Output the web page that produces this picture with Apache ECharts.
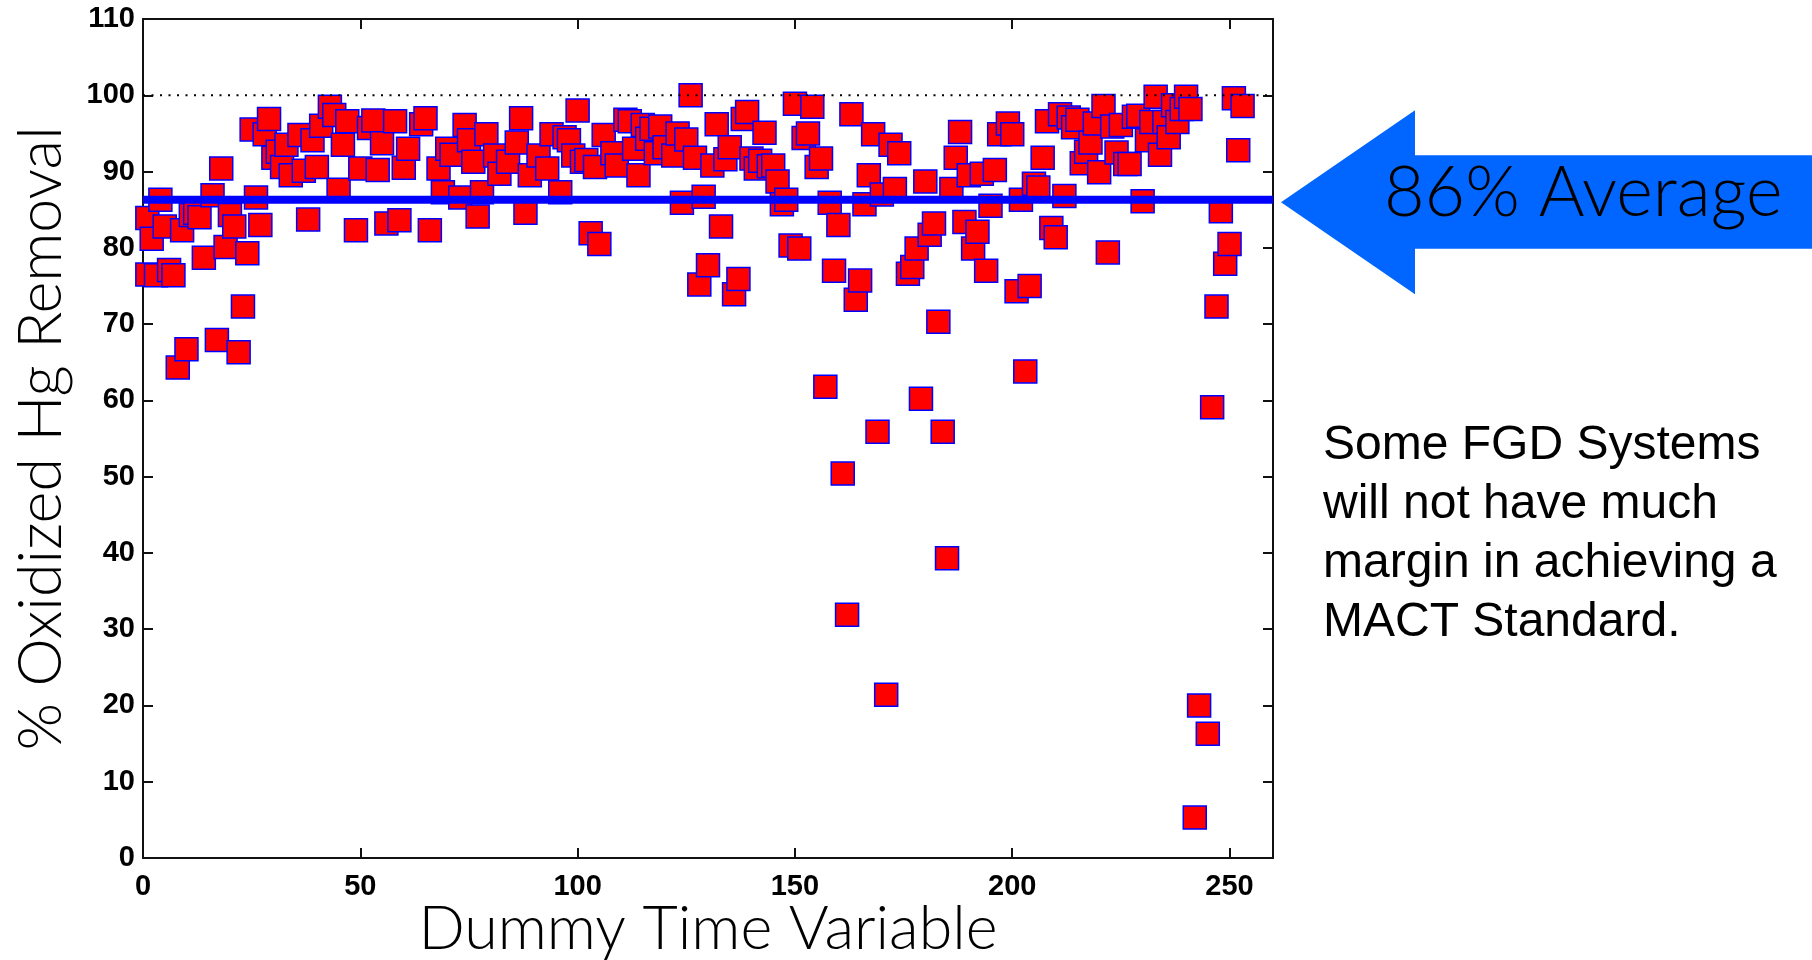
<!DOCTYPE html>
<html>
<head>
<meta charset="utf-8">
<script src="https://cdn.jsdelivr.net/npm/echarts@6/dist/echarts.min.js"></script>
<style>
html,body{margin:0;padding:0;background:#fff;}
#chart{width:1812px;height:960px;}
</style>
</head>
<body>
<div id="chart"></div>
<script>
// ---- data ----
const xs = [1,1,2,3,4,5,6,7,8,9,10,11,12,13,14,16,17,18,19,20,21,22,23,24,25,26,27,28,29,30,
  31,32,33,34,36,37,38,39,40,41,43,44,45,46,47,49,50,52,53,54,55,56,58,59,60,61,64,65,66,68,
  69,70,71,73,74,75,76,77,78,79,81,82,84,86,87,88,89,91,93,94,96,97,98,99,100,101,102,103,104,105,
  106,108,109,111,112,113,114,115,116,117,118,119,120,122,123,124,125,126,127,128,129,130,131,132,
  133,134,135,136,137,138,139,140,141,142,143,144,145,146,147,148,149,150,151,152,153,154,155,156,
  157,158,159,160,161,162,163,164,165,166,167,168,169,170,171,172,173,174,176,177,178,179,180,181,
  182,183,184,185,186,187,188,189,190,191,192,193,194,195,196,197,199,200,201,202,203,204,205,206,
  207,208,209,210,211,212,213,214,215,216,217,218,219,220,221,222,223,224,225,226,227,228,229,230,
  231,232,233,234,235,236,237,238,239,240,241,242,243,245,246,247,248,249,250,251,252,253];
const ys = [83.9,76.5,81.2,76.4,86.3,82.8,77.1,76.4,64.3,82.3,66.7,84.3,84.6,84.0,78.7,86.9,67.9,90.4,80.1,84.3,
  82.8,66.3,72.3,79.3,95.5,86.6,83.0,94.9,96.9,91.8,
  92.6,90.6,93.5,89.5,94.8,90.1,83.7,94.1,90.6,96.0,98.5,97.4,87.6,93.5,96.6,82.3,90.4,95.7,96.7,90.2,
  93.7,83.2,96.6,83.6,90.5,93.0,96.2,97.0,82.3,90.4,
  87.3,93.0,92.2,86.6,96.1,94.1,91.3,84.1,87.3,94.9,92.1,89.7,91.3,93.8,97.0,84.6,89.5,92.1,90.4,94.9,
  87.3,94.5,94.1,92.1,98.0,91.3,91.5,81.9,90.6,80.5,
  94.8,92.4,90.8,96.8,96.6,93.0,89.5,96.1,94.3,95.6,92.4,95.9,93.2,92.1,95.0,85.9,94.2,100.0,91.8,75.2,
  86.7,77.7,90.8,96.2,
  82.8,91.6,93.2,73.9,75.9,96.9,97.8,91.7,90.4,91.4,95.1,90.7,90.8,88.7,85.7,86.3,80.3,98.9,79.9,94.4,
  95.0,98.5,90.6,91.7,
  61.8,85.9,77.0,83.0,50.4,31.9,97.5,73.2,75.7,85.7,89.5,94.9,55.9,87.0,21.4,93.5,87.7,92.4,76.6,77.5,
  79.9,60.2,88.7,81.7,
  83.2,70.3,55.9,39.3,87.7,91.8,95.2,83.4,89.5,79.9,82.1,89.7,77.0,85.5,90.2,94.9,96.3,94.9,74.3,86.3,
  63.8,75.0,88.4,87.9,
  91.8,96.6,82.6,81.4,97.5,86.8,97.1,95.8,96.8,91.1,92.6,93.8,96.3,89.9,98.6,79.4,95.9,92.5,96.1,91.0,
  91.0,97.2,97.3,86.1,
  94.1,96.5,99.8,92.2,96.5,94.5,98.7,96.5,98.2,99.8,98.2,5.3,20.0,16.3,59.1,72.3,84.8,77.9,80.5,99.6,
  92.8,98.6];
const avgValue = 86.3;
const refValue = 100;
const xMin = 0, xMax = 260, xStep = 50;
const yMin = 0, yMax = 110, yStep = 10;
const xTitle = 'Dummy Time Variable';
const yTitle = '% Oxidized Hg Removal';
const arrowText = '86% Average';
const noteLines = ['Some FGD Systems', 'will not have much', 'margin in achieving a', 'MACT Standard.'];

const points = xs.map((x, i) => [x, ys[i]]);

const chart = echarts.init(document.getElementById('chart'), null, {renderer: 'canvas'});
const axisLine = {show: true, onZero: false, lineStyle: {color: '#111', width: 2}};
const tick = {show: true, inside: true, length: 10, lineStyle: {color: '#111', width: 2}};
const labelFont = {fontFamily: 'Liberation Sans', fontWeight: 'bold', fontSize: 29, color: '#000'};
const titleFont = {fontFamily: 'Lato', fontWeight: 300, fontSize: 61, color: '#000'};

chart.setOption({
  animation: false,
  backgroundColor: '#fff',
  grid: {left: 143, top: 19, right: 539, bottom: 102, containLabel: false, outerBoundsMode: 'none'},
  xAxis: [
    {type: 'value', min: xMin, max: xMax, interval: xStep, position: 'bottom',
     axisLine, axisTick: tick, splitLine: {show: false},
     axisLabel: Object.assign({margin: 14, formatter: v => (v % xStep === 0 ? String(v) : '')}, labelFont),
     name: xTitle, nameLocation: 'middle', nameGap: 41, nameMoveOverlap: false, nameTextStyle: titleFont},
    {type: 'value', min: xMin, max: xMax, interval: xStep, position: 'top',
     axisLine, axisTick: tick, axisLabel: {show: false}, splitLine: {show: false}}
  ],
  yAxis: [
    {type: 'value', min: yMin, max: yMax, interval: yStep, position: 'left',
     axisLine, axisTick: tick, splitLine: {show: false},
     axisLabel: Object.assign({margin: 8}, labelFont),
     name: yTitle, nameLocation: 'middle', nameGap: 71, nameTextStyle: titleFont},
    {type: 'value', min: yMin, max: yMax, interval: yStep, position: 'right',
     axisLine, axisTick: tick, axisLabel: {show: false}, splitLine: {show: false}}
  ],
  series: [
    {type: 'scatter', data: points, symbol: 'rect', symbolSize: 23, z: 2,
     itemStyle: {color: '#ff0000', borderColor: '#0000ff', borderWidth: 1.5, opacity: 1}},
    {type: 'line', data: [[xMin, refValue], [xMax, refValue]], symbol: 'none', z: 4,
     lineStyle: {color: '#000', width: 2, type: [2, 6.5]}},
    {type: 'line', data: [[xMin, avgValue], [xMax, avgValue]], symbol: 'none', z: 3,
     lineStyle: {color: '#0000ff', width: 8}}
  ]
});

// arrow annotation pointing at the average line
const yAvg = chart.convertToPixel({yAxisIndex: 0}, avgValue) + 2.5;
const xRight = chart.convertToPixel({xAxisIndex: 0}, xMax);
const tipX = xRight + 8;
const headX = tipX + 134;
chart.setOption({
  graphic: [
    {type: 'polygon', z: 10,
     shape: {points: [[tipX, yAvg], [headX, yAvg - 92], [headX, yAvg - 47], [1812, yAvg - 47],
                      [1812, yAvg + 46.5], [headX, yAvg + 46.5], [headX, yAvg + 92]]},
     style: {fill: '#0066ff'}},
    {type: 'text', z: 11, x: 1384, y: yAvg - 9,
     style: {text: arrowText, fontFamily: 'Lato', fontWeight: 300, fontSize: 70, fill: '#000',
             textAlign: 'left', textVerticalAlign: 'middle'}},
    {type: 'text', z: 11, x: 1323, y: 416,
     style: {text: noteLines.join('\n'), fontFamily: 'Liberation Sans', fontSize: 48, lineHeight: 59,
             fill: '#000', textAlign: 'left', textVerticalAlign: 'top'}}
  ]
});
</script>
</body>
</html>
